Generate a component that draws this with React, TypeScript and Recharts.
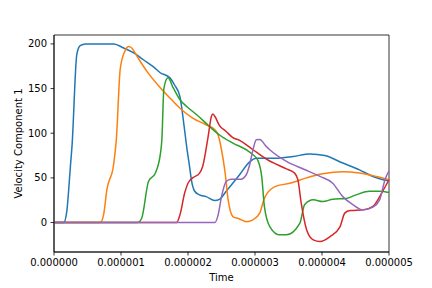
import { LineChart, Line, XAxis, YAxis, ReferenceArea } from "recharts"

// time in microseconds (axis labels show seconds)
const blueTime = [0, 0.145, 0.19, 0.245, 0.27, 0.34, 0.39, 0.47, 0.89, 1.04, 1.19, 1.34, 1.49, 1.58, 1.73, 1.8, 1.88, 1.93, 1.98, 2.03, 2.05, 2.1, 2.17, 2.27, 2.4, 2.47, 2.57, 2.77, 2.92, 3.02, 3.3, 3.57, 3.82, 4.04, 4.31, 4.56, 4.76, 4.91, 5.0]
const blueValues = [0, 0, 12, 63, 87, 188, 198, 200, 200, 195.5, 190, 182, 174, 168, 162, 154, 141, 115, 85, 59, 48, 35, 31, 29, 24.7, 26, 35, 53.5, 68, 72, 72, 74, 76.7, 75, 66.6, 59, 51.6, 48, 46.7]

const orangeTime = [0, 0.69, 0.74, 0.79, 0.89, 0.93, 0.99, 1.07, 1.115, 1.16, 1.24, 1.39, 1.59, 1.73, 1.88, 2.07, 2.27, 2.4, 2.45, 2.5, 2.55, 2.6, 2.67, 2.77, 2.87, 2.97, 3.07, 3.14, 3.29, 3.52, 3.77, 4.01, 4.31, 4.56, 4.81, 5.0]
const orangeValues = [0, 0, 8.6, 37, 65, 92.6, 173, 193.6, 197, 195.5, 186, 169, 150.7, 139.5, 128, 117, 109.5, 104, 98, 81.5, 58, 25, 6.7, 4, 1, 3, 10.5, 27, 40, 44, 50, 54.6, 57, 55.4, 51.6, 48]

const greenTime = [0, 1.25, 1.31, 1.41, 1.51, 1.59, 1.61, 1.64, 1.7, 1.78, 1.88, 1.98, 2.13, 2.32, 2.47, 2.67, 2.87, 2.97, 3.04, 3.1, 3.14, 3.22, 3.37, 3.47, 3.67, 3.74, 3.87, 4.01, 4.16, 4.36, 4.51, 4.71, 4.86, 5.0]
const greenValues = [0, 0, 5, 46, 55, 78, 93, 150, 162, 150.7, 137.5, 130, 120.7, 107.6, 98, 89, 81.5, 76, 70, 51.6, 18, -4.5, -13.8, -13.8, -0.7, 20, 25.4, 23.5, 26, 27, 31, 35, 35, 33.6]

const redTime = [0, 1.83, 1.88, 1.95, 2.0, 2.07, 2.17, 2.22, 2.3, 2.35, 2.37, 2.4, 2.47, 2.57, 2.67, 2.77, 2.97, 3.17, 3.47, 3.59, 3.64, 3.69, 3.77, 3.87, 3.97, 4.12, 4.27, 4.34, 4.42, 4.62, 4.76, 4.89, 5.0]
const redValues = [0, 0, 8.6, 33, 44, 50, 55, 63, 96, 119, 121.5, 119, 108.5, 102, 95, 92, 81.5, 71, 60, 55.4, 48, 21.7, -8, -19.4, -21.3, -15.7, -4.5, 10.5, 13.5, 14.2, 18, 33, 48]

const purpleTime = [0, 2.4, 2.45, 2.5, 2.57, 2.64, 2.79, 2.87, 2.92, 2.97, 3.02, 3.07, 3.17, 3.22, 3.47, 3.72, 3.97, 4.16, 4.31, 4.46, 4.61, 4.76, 4.86, 4.94, 5.0]
const purpleValues = [0, 0, 8.6, 29, 46, 48.6, 48.6, 53.5, 64.7, 81.5, 92.7, 93, 85, 81.5, 68.4, 59.9, 51.6, 44, 29, 20, 14.2, 17.3, 25.4, 48, 58]

const xTicks = [0, 1, 2, 3, 4, 5]
const yTicks = [0, 50, 100, 150, 200]

const toRows = (time: number[], values: number[]) => time.map((t, i) => ({ t, v: values[i] }))

const series = [
  { name: "blue", color: "#1f77b4", data: toRows(blueTime, blueValues) },
  { name: "orange", color: "#ff7f0e", data: toRows(orangeTime, orangeValues) },
  { name: "green", color: "#2ca02c", data: toRows(greenTime, greenValues) },
  { name: "red", color: "#d62728", data: toRows(redTime, redValues) },
  { name: "purple", color: "#9467bd", data: toRows(purpleTime, purpleValues) },
]

const FONT = "DejaVu Sans"
const tickStyle = { fontFamily: FONT, fontSize: 10, fill: "#000" }

export default function App() {
  return (
    <div style={{ position: "absolute", left: 0, top: 0, background: "#fff" }}>
      <LineChart width={432} height={288} margin={{ top: 35, right: 43, bottom: 0, left: 0 }}>
        <XAxis
          dataKey="t"
          type="number"
          domain={[0, 5]}
          ticks={xTicks}
          tickFormatter={(v: number) => (v * 1e-6).toFixed(6)}
          height={36}
          tickSize={3.5}
          tickMargin={3.5}
          tick={tickStyle}
          axisLine={{ stroke: "#000", strokeWidth: 0.8 }}
          tickLine={{ stroke: "#000", strokeWidth: 0.8 }}
          label={{ value: "Time", position: "insideBottom", offset: 7, style: { fontFamily: FONT, fontSize: 10, fill: "#000" } }}
        />
        <YAxis
          type="number"
          domain={[-33, 210]}
          ticks={yTicks}
          allowDataOverflow
          width={54}
          tickSize={3.5}
          tickMargin={3.5}
          tick={tickStyle}
          axisLine={{ stroke: "#000", strokeWidth: 0.8 }}
          tickLine={{ stroke: "#000", strokeWidth: 0.8 }}
          label={{ value: "Velocity Component 1", angle: -90, position: "center", dx: -9, style: { fontFamily: FONT, fontSize: 10, fill: "#000", textAnchor: "middle" } }}
        />
        <ReferenceArea x1={0} x2={5} y1={-33} y2={210} fill="none" stroke="#000" strokeWidth={0.8} />
        {series.map((s) => (
          <Line
            key={s.name}
            data={s.data}
            dataKey="v"
            type="monotone"
            stroke={s.color}
            strokeWidth={1.5}
            dot={false}
            isAnimationActive={false}
          />
        ))}
      </LineChart>
    </div>
  )
}
